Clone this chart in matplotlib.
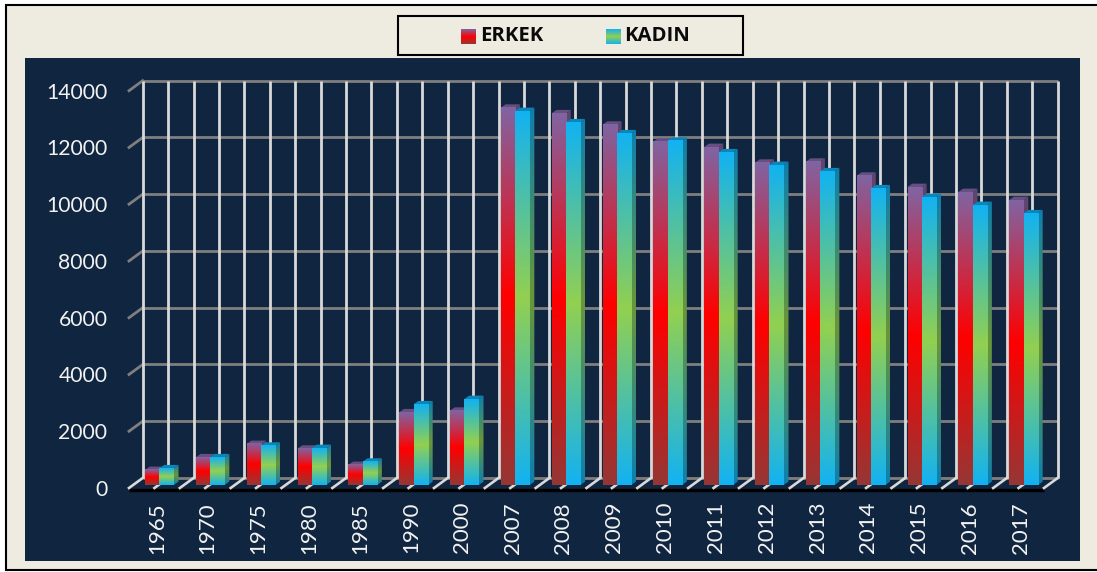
import numpy as np
import matplotlib
matplotlib.use("Agg")
import matplotlib.pyplot as plt
from matplotlib.colors import LinearSegmentedColormap, to_rgb
from matplotlib.patches import Rectangle, Polygon

years = ["1965","1970","1975","1980","1985","1990","2000","2007","2008","2009",
         "2010","2011","2012","2013","2014","2015","2016","2017"]
erkek = [529,976,1445,1280,705,2561,2618,13294,13097,12696,
         12097,11910,11357,11392,10898,10500,10324,10042]
kadin = [588,976,1385,1303,821,2843,3030,13178,12780,12393,
         12132,11723,11276,11054,10455,10148,9866,9574]
yticks = [0,2000,4000,6000,8000,10000,12000,14000]

W, H = 1097, 572
FONT = "Lato"
NAVY = "#10253F"
CREAM = "#EEECE1"
GRID = "#7F7F7F"
VLINE = "#D9D9D9"

E_STOPS = ["#953735", "#FF0000", "#8064A2"]      # bottom -> top
K_STOPS = ["#12B2F2", "#92D050", "#12B2F2"]

def shade(cols, f):
    return [tuple(c * f for c in to_rgb(x)) for x in cols]

def grad(cols):
    m = LinearSegmentedColormap.from_list("g", cols, N=256)
    return m(np.linspace(1, 0, 256))[:, None, :3]   # first row = top

fig = plt.figure(figsize=(W / 100, H / 100), dpi=100, facecolor="white")

# pixel-coordinate layer for the page furniture
bg = fig.add_axes([0, 0, 1, 1], zorder=0)
bg.set_xlim(0, W); bg.set_ylim(H, 0); bg.axis("off")
bg.add_patch(Rectangle((6, 5), W + 20, 565, fc=CREAM, ec="black", lw=1.5))
bg.add_patch(Rectangle((25, 58), 1055, 503, fc=NAVY, ec="none"))
bg.add_patch(Rectangle((398, 16), 345, 39, fc=CREAM, ec="black", lw=1.5))

def swatch(x, cols):
    return bg.imshow(grad(cols), extent=[x, x + 15, 44, 29], aspect="auto",
                     interpolation="bilinear", zorder=3)
swatch(461, E_STOPS)
swatch(606, K_STOPS)
bg.text(480.5, 36, "ERKEK", family="Open Sans", weight="bold", size=14.6, color="#0A0A0A", va="center", ha="left")
bg.text(624.5, 36, "KADIN", family="Open Sans", weight="bold", size=14.6, color="#0A0A0A", va="center", ha="left")
bg.set_xlim(0, W); bg.set_ylim(H, 0)

# chart: front plane 0 at y=488, 14000 at y=90.7; x 129..1044
ax = fig.add_axes([129 / W, (H - 488) / H, 915 / W, 397.3 / H], zorder=1)
ax.patch.set_alpha(0)
PX = 18 / 915.0
PY = 14000 / 397.3
ax.set_xlim(0, 18); ax.set_ylim(0, 14000)
for s in ax.spines.values():
    s.set_visible(False)

wdx, wdy = 13.7 * PX, 10 * PY     # wall depth
for v in yticks:
    ax.plot([wdx, 18 + wdx], [v + wdy, v + wdy], color=GRID, lw=2.0, zorder=1, clip_on=False, solid_capstyle="butt")
    if v:
        ax.plot([0, wdx], [v, v + wdy], color=GRID, lw=2.0, zorder=1, clip_on=False)
for k in range(37):
    x = k / 2
    ax.plot([x + wdx, x + wdx], [wdy, 14000 + wdy], color=VLINE, lw=2.0, zorder=1.2, clip_on=False, solid_capstyle="butt")
ax.plot([0, 18], [-60, -60], color="black", lw=2.4, zorder=1.5, clip_on=False, solid_capstyle="butt")
for k in range(37):
    x = k / 2
    ax.plot([x, x + wdx], [0, wdy], color=VLINE, lw=1.9, zorder=1.6, clip_on=False)

bw = 14.4 * PX
bdx, bdy = 4.7 * PX, 3.4 * PY
base = 3 * PY
shift = 5 * PX

def bar3d(x0, val, stops, top_col):
    x1 = x0 + bw
    y0, y1 = base, base + val
    z = 3
    side = Polygon([(x1, y0), (x1 + bdx, y0 + bdy), (x1 + bdx, y1 + bdy), (x1, y1)],
                   closed=True, fc="none", ec="none", transform=ax.transData)
    ax.add_patch(side)
    im = ax.imshow(grad(shade(stops, 0.72)), extent=[x1, x1 + bdx, y0, y1 + bdy], aspect="auto",
                   interpolation="bilinear", zorder=z, clip_on=True)
    im.set_clip_path(side)
    ax.add_patch(Polygon([(x0, y1), (x1, y1), (x1 + bdx, y1 + bdy), (x0 + bdx, y1 + bdy)],
                         closed=True, fc=top_col, ec="none", zorder=z))
    ax.imshow(grad(stops), extent=[x0, x1, y0, y1], aspect="auto",
              interpolation="bilinear", zorder=z + 0.1, clip_on=False)

for i in range(len(years)):
    c = i + 0.5 + shift
    bar3d(c - bw, erkek[i], E_STOPS, "#674F84")
    bar3d(c, kadin[i], K_STOPS, "#0B86B8")

ax.set_xlim(0, 18); ax.set_ylim(0, 14000)
ax.set_xticks([i + 0.5 + 2.3 * PX for i in range(len(years))])
ax.set_xticklabels(years, rotation=90, family=FONT, size=16, color="#F2F2F2")
ax.set_yticks(yticks)
ax.set_yticklabels([str(v) for v in yticks], family=FONT, size=15.2, color="#F2F2F2")
ax.tick_params(axis="x", length=0, pad=10)
ax.tick_params(axis="y", length=0, pad=15.5)

fig.savefig("out.png", dpi=100, facecolor="white")
